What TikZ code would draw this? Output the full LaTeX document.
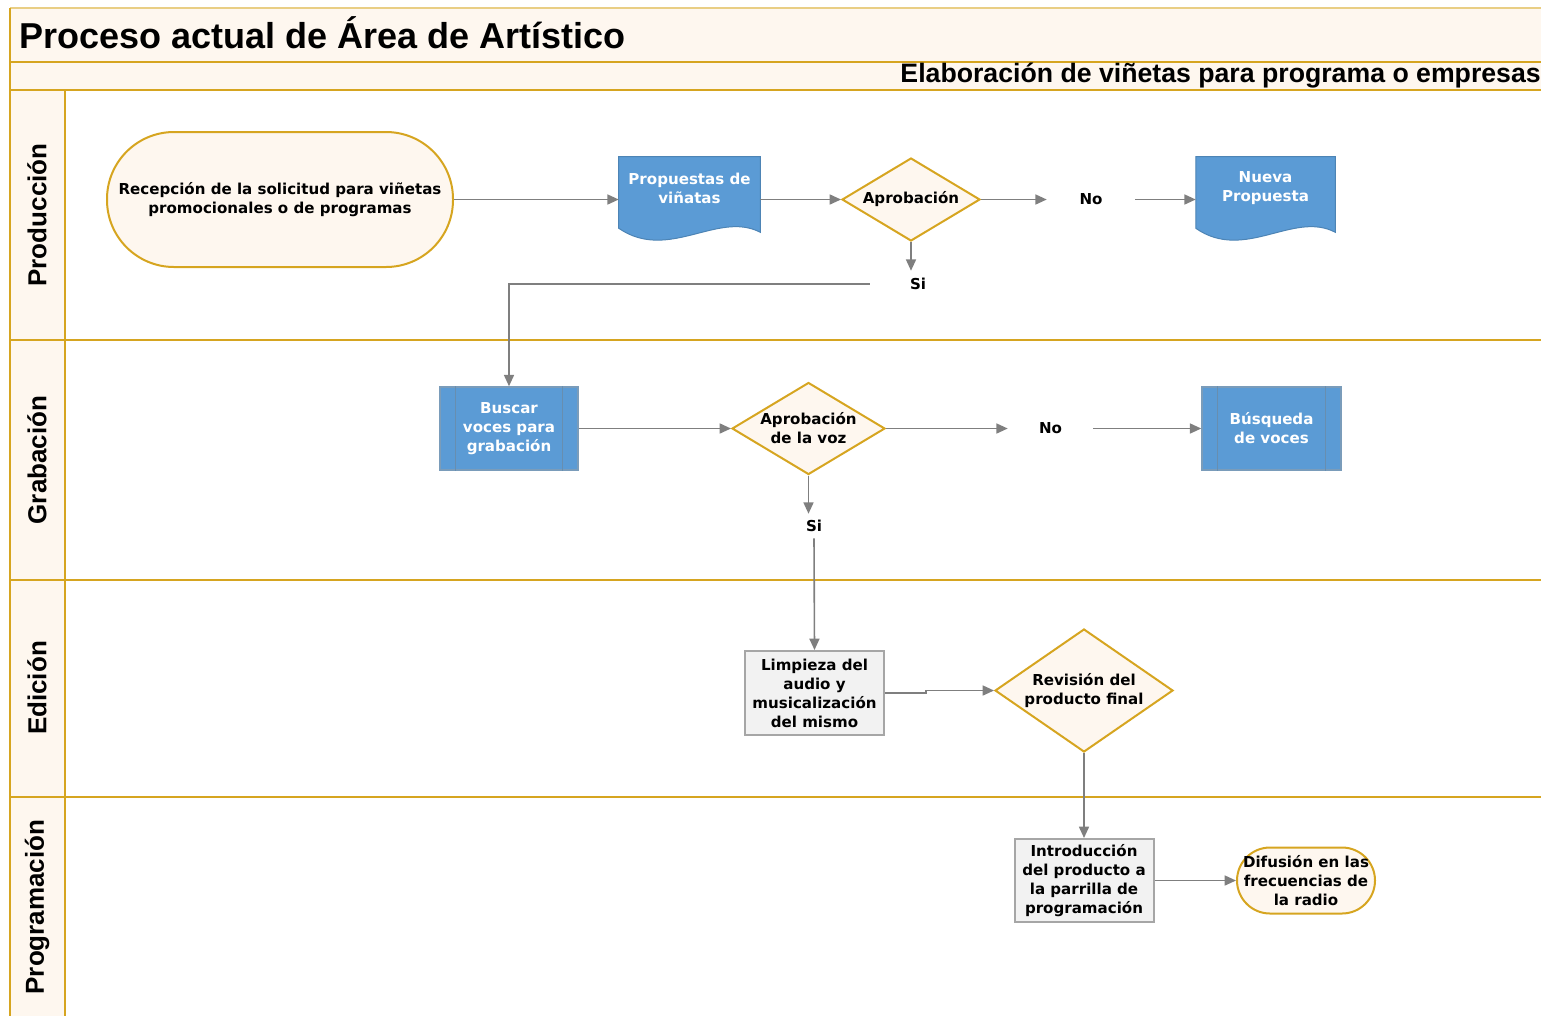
\documentclass[tikz,border=0pt]{standalone}
\usepackage{fontspec}
\setmainfont{Liberation Sans}
\newfontfamily\nodefont{DejaVu Sans}
\usetikzlibrary{arrows.meta,calc,shapes.geometric}
\newlength\pxu \setlength\pxu{0.75pt}
\definecolor{gold}{RGB}{214,165,32}
\definecolor{cream}{RGB}{254,247,239}
\definecolor{bluef}{RGB}{91,155,213}
\definecolor{blued}{RGB}{65,113,156}
\definecolor{conncol}{RGB}{127,127,127}
\definecolor{graybox}{RGB}{242,242,242}
\definecolor{grayb}{RGB}{166,166,166}
\newcommand\docshape[1]{%
  \path[fill=bluef,draw=bluef!85!black,line width=1\pxu] (#1.north west) -- (#1.north east) -- ($(#1.south east)+(0,-10)$)
   .. controls ($(#1.south east)!0.3!(#1.south west)+(0,-32)$) and ($(#1.south east)!0.65!(#1.south west)+(0,20)$) .. ($(#1.south west)+(0,-14)$) -- cycle;}
\newcommand\procline[1]{%
  \draw[blued!80,line width=1.2\pxu] ($(#1.north west)+(16,0)$) -- ($(#1.south west)+(16,0)$);
  \draw[blued!80,line width=1.2\pxu] ($(#1.north east)+(-16,0)$) -- ($(#1.south east)+(-16,0)$);}
\begin{document}
\begin{tikzpicture}[x=0.75pt,y=-0.75pt,
  lane/.style={draw=gold,line width=2.2\pxu},
  txt/.style={font=\nodefont\bfseries\fontsize{11.3}{14.2}\selectfont,align=center,inner sep=0pt},
  wtxt/.style={txt,text=white},
  term/.style={txt,draw=gold,fill=cream,line width=2\pxu},
  dec/.style={txt,diamond,draw=gold,fill=cream,line width=2\pxu},
  docbox/.style={inner sep=0pt,draw=none},
  procbox/.style={wtxt,fill=bluef,draw=blued!70,line width=1.5\pxu},
  actbox/.style={txt,fill=graybox,draw=grayb,line width=2\pxu},
  lbl/.style={txt},
  lanelbl/.style={rotate=90,font=\bfseries\fontsize{19.5}{22}\selectfont,inner sep=0pt},
  conn/.style={draw=conncol,line width=1.6\pxu,-{Triangle[length=8.5pt,width=7.5pt]}}
]
\useasboundingbox (0,0) rectangle (1541,1015);
\begin{scope}
\clip (0,0) rectangle (1541,1015);
\fill[cream] (10,8) rectangle (1560,90);
\fill[cream] (10,90) rectangle (65,1020);
\draw[gold!55,line width=1.5\pxu] (10,8) -- (1560,8);
\draw[lane] (10,8) -- (10,1020);
\draw[lane] (10,62) -- (1560,62);
\draw[lane] (10,90) -- (1560,90);
\draw[lane] (65,90) -- (65,1020);
\draw[lane] (10,340) -- (1560,340);
\draw[lane] (10,580) -- (1560,580);
\draw[lane] (10,797) -- (1560,797);
\end{scope}

\node[anchor=west,font=\bfseries\fontsize{27}{30}\selectfont,inner sep=0pt] (title) at (19,33) {Proceso actual de Área de Artístico};
\node[anchor=east,font=\bfseries\fontsize{20}{22}\selectfont,inner sep=0pt] (sub) at (1541,76) {Elaboración de viñetas para programa o empresas};

\node[lanelbl] (l1) at (37,215) {Producción};
\node[lanelbl] (l2) at (37,460) {Grabación};
\node[lanelbl] (l3) at (37,688) {Edición};
\node[lanelbl] (l4) at (37,907) {Programación};

% Producción
\node[term,rounded corners=67\pxu,minimum width=346\pxu,minimum height=135\pxu] (rec) at (280,199.5) {Recepción de la solicitud para viñetas\\promocionales o de programas};
\node[docbox,minimum width=141\pxu,minimum height=85\pxu] (prop) at (689.5,199.5) {};
\docshape{prop}
\node[wtxt] (propt) at (689.5,188) {Propuestas de\\viñatas};
\node[dec,shape aspect=1.66,minimum width=138\pxu,minimum height=83\pxu] (ap1) at (911,199.5) {Aprobación};
\node[lbl,minimum width=88\pxu,minimum height=20\pxu] (no1) at (1091,199.5) {No};
\node[docbox,minimum width=139\pxu,minimum height=85\pxu] (nue) at (1265.5,199.5) {};
\docshape{nue}
\node[wtxt] (nuet) at (1265.5,188) {Nueva\\Propuesta};
\node[lbl,minimum width=96\pxu,minimum height=26\pxu] (si1) at (918,284) {Si};

% Grabación
\node[procbox,minimum width=138\pxu,minimum height=83\pxu] (bus) at (509,428.5) {Buscar\\voces para\\grabación};
\procline{bus}
\node[dec,shape aspect=1.66,minimum width=153\pxu,minimum height=92\pxu] (voz) at (808.5,428.5) {Aprobación\\de la voz};
\node[lbl,minimum width=85\pxu,minimum height=20\pxu] (no2) at (1050.5,428.5) {No};
\node[procbox,minimum width=139\pxu,minimum height=83\pxu] (bq) at (1271.5,428.5) {Búsqueda\\de voces};
\procline{bq}
\node[lbl,minimum width=30\pxu,minimum height=24\pxu] (si2) at (814,526) {Si};

% Edición
\node[actbox,minimum width=139\pxu,minimum height=84\pxu] (lim) at (814.5,693) {Limpieza del\\audio y\\musicalización\\del mismo};
\node[dec,shape aspect=1.45,minimum width=178\pxu,minimum height=123\pxu] (rev) at (1084,690.5) {Revisión del\\producto final};

% Programación
\node[actbox,minimum width=139\pxu,minimum height=83\pxu] (intro) at (1084,880.5) {Introducción\\del producto a\\la parrilla de\\programación};
\node[term,rounded corners=33\pxu,minimum width=138\pxu,minimum height=66\pxu] (dif) at (1306,880.5) {Difusión en las\\frecuencias de\\la radio};

% connectors
\draw[conn] (rec.east) -- (prop.west);
\draw[conn] (prop.east) -- (ap1.west);
\draw[conn] (ap1.east) -- (no1.west);
\draw[conn] (no1.east) -- (nue.west);
\draw[conn] (ap1.south) -- (ap1.south |- si1.north);
\draw[conn] (si1.west) -| (bus.north);
\draw[conn] (bus.east) -- (voz.west);
\draw[conn] (voz.east) -- (no2.west);
\draw[conn] (no2.east) -- (bq.west);
\draw[conn] (voz.south) -- (voz.south |- si2.north);
\draw[conn] (si2.south) -- (lim.north);
\draw[conn] (lim.east) -- ++(41,0) |- (rev.west);
\draw[conn] (rev.south) -- (intro.north);
\draw[conn] (intro.east) -- (dif.west);
\end{tikzpicture}
\end{document}
